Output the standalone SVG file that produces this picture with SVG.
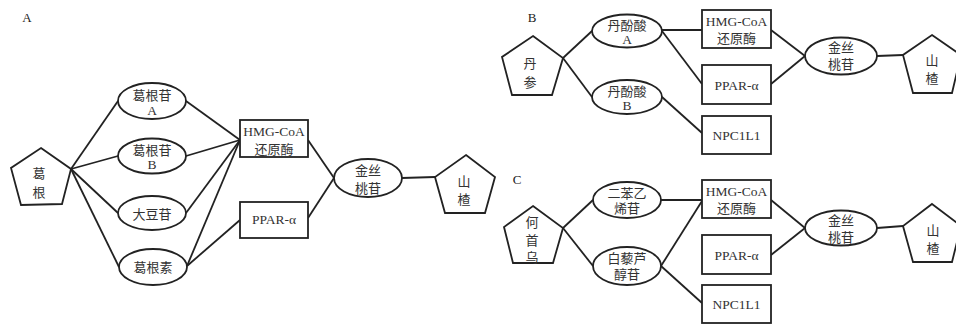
<svg xmlns="http://www.w3.org/2000/svg" width="956" height="327" viewBox="0 0 956 327">
<style>
.s{fill:#fff;stroke:#222;stroke-width:1.8}
.c line{stroke:#222;stroke-width:1.8}
text{font-family:"Liberation Serif","Noto Sans CJK SC",serif;font-size:13px;fill:#333;text-anchor:middle;dominant-baseline:central}
.lab{font-size:13px;fill:#222}
.en{font-size:13.5px}
</style>
<rect width="956" height="327" fill="#fff"/>
<g id="connectors" class="c">
<!-- A -->
<line x1="71" y1="169" x2="118" y2="101"/>
<line x1="71" y1="169" x2="118" y2="156"/>
<line x1="71" y1="169" x2="118" y2="213"/>
<line x1="71" y1="169" x2="119" y2="267"/>
<line x1="186" y1="101" x2="240" y2="140"/>
<line x1="186" y1="156" x2="240" y2="140"/>
<line x1="186" y1="213" x2="240" y2="140"/>
<line x1="187" y1="266" x2="240" y2="140"/>
<line x1="187" y1="266" x2="240" y2="220"/>
<line x1="308" y1="140" x2="334" y2="178"/>
<line x1="308" y1="218" x2="334" y2="178"/>
<line x1="402" y1="178" x2="435" y2="177"/>
<!-- B -->
<line x1="563" y1="58" x2="592" y2="31"/>
<line x1="563" y1="58" x2="592" y2="97"/>
<line x1="662" y1="30" x2="702" y2="30"/>
<line x1="662" y1="31" x2="702" y2="84"/>
<line x1="662" y1="97" x2="702" y2="133"/>
<line x1="771" y1="30" x2="805" y2="56"/>
<line x1="771" y1="84" x2="805" y2="56"/>
<line x1="877" y1="56" x2="903" y2="55"/>
<!-- C -->
<line x1="563" y1="228" x2="593" y2="200"/>
<line x1="563" y1="228" x2="593" y2="266"/>
<line x1="661" y1="200" x2="702" y2="200"/>
<line x1="661" y1="266" x2="702" y2="201"/>
<line x1="661" y1="266" x2="702" y2="303"/>
<line x1="771" y1="200" x2="805" y2="228"/>
<line x1="771" y1="255" x2="805" y2="228"/>
<line x1="877" y1="228" x2="903" y2="226"/>
</g>
<g id="labels">
<text class="lab" x="27" y="17">A</text>
<text class="lab" x="532" y="17">B</text>
<text class="lab" x="517" y="179">C</text>
</g>
<!-- Panel A -->
<g id="A-gegen"><polygon class="s" points="41,148 71,169 62,204 21,205 11,168"/><text x="39" y="173">葛</text><text x="39" y="192">根</text></g>
<g id="A-puerarinA"><ellipse class="s" cx="152" cy="101" rx="34" ry="18"/><text x="152" y="95">葛根苷</text><text class="en" x="152" y="110">A</text></g>
<g id="A-puerarinB"><ellipse class="s" cx="152" cy="156" rx="34" ry="17.5"/><text x="152" y="150">葛根苷</text><text class="en" x="152" y="164">B</text></g>
<g id="A-daidzin"><ellipse class="s" cx="152" cy="213" rx="34" ry="17"/><text x="152" y="214">大豆苷</text></g>
<g id="A-puerarin"><ellipse class="s" cx="153" cy="267" rx="34" ry="18"/><text x="153" y="267">葛根素</text></g>
<g id="A-hmg"><rect class="s" x="240" y="120" width="68" height="37"/><text class="en" x="274" y="131">HMG-CoA</text><text x="274" y="149">还原酶</text></g>
<g id="A-ppar"><rect class="s" x="240" y="202" width="68" height="36"/><text class="en" x="274" y="219">PPAR-α</text></g>
<g id="A-hyperoside"><ellipse class="s" cx="368" cy="178" rx="34" ry="19"/><text x="368" y="170">金丝</text><text x="368" y="188">桃苷</text></g>
<g id="A-shanzha"><polygon class="s" points="466,155 495,177 485,213 445,213 435,177"/><text x="464" y="181">山</text><text x="464" y="199">楂</text></g>
<!-- Panel B -->
<g id="B-danshen"><polygon class="s" points="533,36 563,58 552,95 512,95 502,57"/><text x="530" y="63">丹</text><text x="530" y="82">参</text></g>
<g id="B-salA"><ellipse class="s" cx="627" cy="31" rx="35" ry="16.5"/><text x="627" y="25">丹酚酸</text><text class="en" x="627" y="39">A</text></g>
<g id="B-salB"><ellipse class="s" cx="627" cy="97" rx="35" ry="17"/><text x="627" y="91">丹酚酸</text><text class="en" x="627" y="105">B</text></g>
<g id="B-hmg"><rect class="s" x="702" y="10" width="69" height="38"/><text class="en" x="736.5" y="21">HMG-CoA</text><text x="736.5" y="38">还原酶</text></g>
<g id="B-ppar"><rect class="s" x="702" y="65" width="69" height="39"/><text class="en" x="736.5" y="85">PPAR-α</text></g>
<g id="B-npc"><rect class="s" x="702" y="116" width="69" height="38"/><text class="en" x="736.5" y="135">NPC1L1</text></g>
<g id="B-hyperoside"><ellipse class="s" cx="841" cy="56" rx="36" ry="18.5"/><text x="841" y="47">金丝</text><text x="841" y="64">桃苷</text></g>
<g id="B-shanzha"><polygon class="s" points="932,35 961,55 952,93 913,93 903,55"/><text x="932" y="60">山</text><text x="932" y="78">楂</text></g>
<!-- Panel C -->
<g id="C-heshouwu"><polygon class="s" points="533,206 563,228 553,263 513,263 504,227"/><text x="532" y="222">何</text><text x="532" y="240">首</text><text x="532" y="257">乌</text></g>
<g id="C-stilbene"><ellipse class="s" cx="627" cy="200" rx="34" ry="18"/><text x="627" y="193">二苯乙</text><text x="627" y="208">烯苷</text></g>
<g id="C-resveratroloside"><ellipse class="s" cx="627" cy="266" rx="34" ry="19"/><text x="627" y="258">白藜芦</text><text x="627" y="274">醇苷</text></g>
<g id="C-hmg"><rect class="s" x="702" y="180" width="69" height="38"/><text class="en" x="736.5" y="191">HMG-CoA</text><text x="736.5" y="208">还原酶</text></g>
<g id="C-ppar"><rect class="s" x="702" y="235" width="69" height="39"/><text class="en" x="736.5" y="255">PPAR-α</text></g>
<g id="C-npc"><rect class="s" x="702" y="285" width="69" height="38"/><text class="en" x="736.5" y="304">NPC1L1</text></g>
<g id="C-hyperoside"><ellipse class="s" cx="841" cy="228" rx="36" ry="17.5"/><text x="841" y="220">金丝</text><text x="841" y="237">桃苷</text></g>
<g id="C-shanzha"><polygon class="s" points="932,204 961,226 952,262 913,262 903,226"/><text x="933" y="230">山</text><text x="933" y="248">楂</text></g>
</svg>
